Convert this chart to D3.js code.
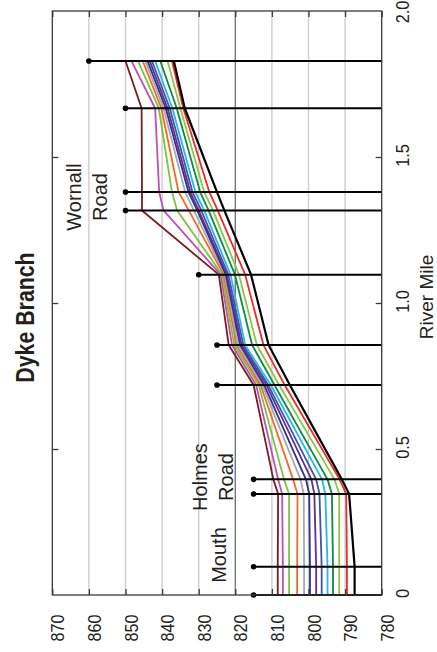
<!DOCTYPE html>
<html>
<head>
<meta charset="utf-8">
<script src="https://cdn.jsdelivr.net/npm/d3@7"></script>
<style>
  body { margin: 0; background: #fff; }
  text { font-family: "Liberation Sans", Arial, sans-serif; fill: #231f20; }
</style>
</head>
<body>
<script>
// river mile of each cross section (bottom of chart = mouth)
var riverMile = [0, 0.097, 0.346, 0.396, 0.719, 0.856, 1.097, 1.317, 1.380, 1.667, 1.829];
// top of each cross-section marker (ft)
var stationTop = [815, 815, 815, 815, 825, 825, 830, 850, 850, 850, 860];

// water-surface profiles, elevation at each cross section (ft)
var s01 = [808.4, 808.4, 808.3, 809.6, 815.0, 821.8, 824.5, 845.5, 845.5, 845.6, 850.0];
var s02 = [807.0, 807.0, 807.2, 808.3, 814.3, 820.9, 824.0, 839.6, 840.8, 841.9, 848.4];
var s03 = [805.3, 805.3, 805.3, 806.7, 813.6, 820.3, 823.6, 835.9, 837.3, 840.9, 846.6];
var s04 = [803.1, 803.1, 803.0, 804.2, 813.1, 819.7, 823.2, 832.7, 835.5, 840.2, 845.3];
var s05 = [801.2, 801.2, 801.3, 802.2, 812.6, 819.3, 822.9, 831.3, 833.7, 839.6, 844.6];
var s06 = [799.6, 799.6, 799.8, 800.7, 812.1, 818.7, 822.6, 830.4, 832.8, 839.0, 844.0];
var s07 = [797.9, 797.9, 798.4, 799.2, 811.5, 818.3, 822.3, 830.0, 832.3, 838.5, 843.4];
var s08 = [796.4, 796.4, 797.0, 797.9, 811.0, 817.8, 821.9, 829.3, 831.7, 837.9, 842.8];
var s09 = [794.8, 794.8, 795.4, 796.3, 810.3, 817.3, 821.3, 828.5, 830.9, 837.2, 841.9];
var s10 = [793.3, 793.3, 793.6, 794.8, 809.3, 815.4, 820.1, 827.3, 829.6, 836.0, 840.5];
var s11 = [791.6, 791.6, 791.6, 792.9, 808.0, 814.1, 819.0, 826.1, 828.5, 835.0, 838.5];
var s12 = [789.5, 789.5, 789.7, 791.5, 806.5, 812.3, 817.3, 824.8, 827.1, 834.2, 837.3];
var s13 = [787.4, 787.4, 788.9, 790.9, 805.1, 810.9, 815.7, 823.0, 825.0, 833.8, 836.8];
var series = [s01, s02, s03, s04, s05, s06, s07, s08, s09, s10, s11, s12, s13];

var elevTicks = [870, 860, 850, 840, 830, 820, 810, 800, 790, 780];
var mileTicks = [0, 0.5, 1.0, 1.5, 2.0];

// place labels: lines, river mile, elevation
var placeNames = [["Wornall", "Road"], ["Holmes", "Road"], ["Mouth"]];
var placeMile = [1.363, 0.404, 0.137];
var placeElev = [862.2, 827.7, 822.5];

var colors = ["#7b1c1e", "#c04fb2", "#7cc242", "#f26b21", "#a7a9ac", "#2e3192",
              "#662d91", "#3f56a6", "#29b6ea", "#0b8a45", "#8dc63f", "#ee2a2a", "#000000"];

var width = 437, height = 652;
var plot = { left: 52.3, right: 381.7, top: 11, bottom: 595 };

var svg = d3.select("body").append("svg")
  .attr("width", width)
  .attr("height", height);

// elevation runs across (high on the left), river mile runs up
var x = d3.scaleLinear().domain([870, 780]).range([plot.left, plot.right]);
var y = d3.scaleLinear().domain([0, 2]).range([plot.bottom, plot.top]);

// gridlines
svg.append("g")
  .selectAll("line")
  .data(elevTicks.slice(1, -1))
  .enter()
  .append("line")
  .attr("x1", d => x(d)).attr("x2", d => x(d))
  .attr("y1", plot.top).attr("y2", plot.bottom)
  .attr("stroke", d => d === 820 ? "#77787b" : "#cdcdcd")
  .attr("stroke-width", 1.4);

// profiles
var line = d3.line()
  .x(d => x(d[1]))
  .y(d => y(d[0]));

svg.append("g")
  .selectAll("path")
  .data(series)
  .enter()
  .append("path")
  .attr("d", s => line(riverMile.map((m, i) => [m, s[i]])))
  .attr("fill", "none")
  .attr("stroke", (s, i) => colors[i])
  .attr("stroke-width", (s, i) => i === 12 ? 2.2 : 1.8)
  .attr("stroke-linejoin", "round");

// cross sections
var xs = svg.append("g");
xs.selectAll("line")
  .data(riverMile)
  .enter()
  .append("line")
  .attr("x1", (d, i) => x(stationTop[i]))
  .attr("x2", x(780))
  .attr("y1", d => y(d)).attr("y2", d => y(d))
  .attr("stroke", "#000")
  .attr("stroke-width", 2);
xs.selectAll("circle")
  .data(riverMile)
  .enter()
  .append("circle")
  .attr("cx", (d, i) => x(stationTop[i]))
  .attr("cy", d => y(d))
  .attr("r", 2.8)
  .attr("fill", "#000");

// frame
svg.append("rect")
  .attr("x", plot.left).attr("y", plot.top)
  .attr("width", plot.right - plot.left)
  .attr("height", plot.bottom - plot.top)
  .attr("fill", "none")
  .attr("stroke", "#3a3a3a")
  .attr("stroke-width", 1.3);

// axes, ticks inside
var bottomAxis = svg.append("g")
  .attr("transform", `translate(0, ${plot.bottom})`)
  .call(d3.axisBottom(x).tickValues(elevTicks).tickSize(-6).tickFormat(d3.format("d")));
bottomAxis.selectAll("text")
  .attr("x", 0).attr("y", 0).attr("dy", null)
  .attr("transform", "translate(11.5, 33) rotate(-90) scale(0.85, 1)")
  .attr("text-anchor", "middle")
  .style("font-size", "19px");

svg.append("g")
  .attr("transform", `translate(0, ${plot.top})`)
  .call(d3.axisTop(x).tickValues(elevTicks).tickSize(-6).tickFormat(""));

svg.append("g")
  .attr("transform", `translate(${plot.right}, 0)`)
  .call(d3.axisRight(y).tickValues(mileTicks.slice(1, -1)).tickSize(-6).tickFormat(""));

svg.append("g")
  .attr("transform", `translate(${plot.left}, 0)`)
  .call(d3.axisLeft(y).tickValues(mileTicks.slice(1, -1)).tickSize(-6).tickFormat(""));

// river mile labels
svg.append("g")
  .selectAll("text")
  .data(mileTicks)
  .enter()
  .append("text")
  .attr("transform", d => `translate(${plot.right + 27}, ${Math.max(y(d) - 1.5, 12)}) rotate(-90) scale(0.86, 1)`)
  .attr("text-anchor", "middle")
  .style("font-size", "19px")
  .text(d => d === 0 ? "0" : d3.format(".1f")(d));

svg.selectAll(".domain").remove();
svg.selectAll(".tick line").attr("stroke", "#3a3a3a").attr("stroke-width", 1.3);
svg.selectAll(".tick text").attr("fill", "#231f20");

// title and axis name
svg.append("text")
  .attr("transform", "translate(34, 317.5) rotate(-90) scale(0.82, 1)")
  .attr("text-anchor", "middle")
  .style("font-size", "26px")
  .style("font-weight", "bold")
  .text("Dyke Branch");

svg.append("text")
  .attr("transform", "translate(433, 297) rotate(-90)")
  .attr("text-anchor", "middle")
  .style("font-size", "19px")
  .text("River Mile");

// place labels
placeNames.forEach(function(lines, k) {
  var t = svg.append("text")
    .attr("transform", `translate(${x(placeElev[k])}, ${y(placeMile[k])}) rotate(-90)`)
    .attr("text-anchor", "middle")
    .style("font-size", "20px");
  lines.forEach(function(s, j) {
    t.append("tspan").attr("x", 0).attr("y", j * 26).text(s);
  });
});
</script>
</body>
</html>
